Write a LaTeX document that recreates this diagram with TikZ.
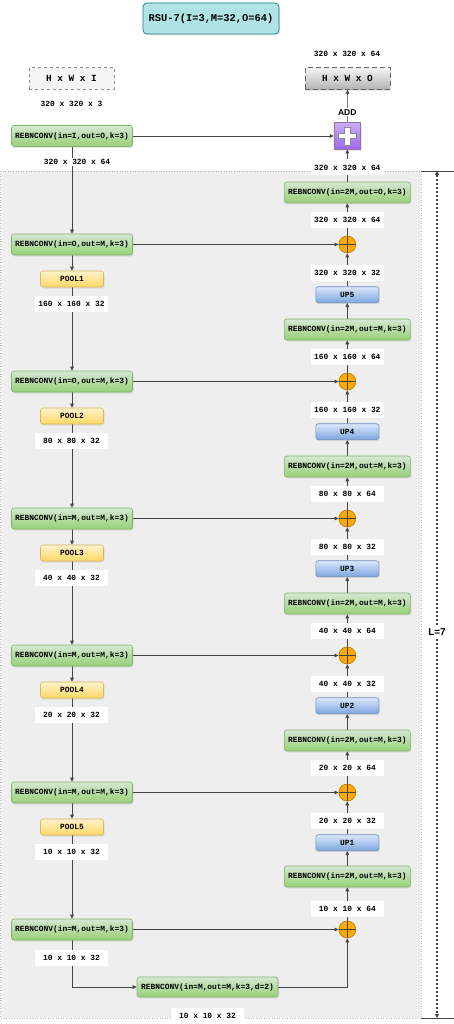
\documentclass[tikz,border=0pt]{standalone}
\usepackage{fontspec}
\setmainfont{Liberation Sans}
\setsansfont{Liberation Sans}
\setmonofont{Liberation Mono}
\usetikzlibrary{arrows.meta,shadows}
\definecolor{gFill}{HTML}{D5E8D4}
\definecolor{gGrad}{HTML}{97D077}
\definecolor{gLine}{HTML}{82B366}
\definecolor{yFill}{HTML}{FFF2CC}
\definecolor{yGrad}{HTML}{FFD966}
\definecolor{yLine}{HTML}{D6B656}
\definecolor{bFill}{HTML}{DAE8FC}
\definecolor{bGrad}{HTML}{7EA6E0}
\definecolor{bLine}{HTML}{6C8EBF}
\definecolor{tFill}{HTML}{B0E3E6}
\definecolor{tLine}{HTML}{0E8088}
\definecolor{pTop}{HTML}{C9AEF5}
\definecolor{pBot}{HTML}{9F66F0}
\definecolor{pLine}{HTML}{9673A6}
\definecolor{oFill}{HTML}{FFAA00}
\definecolor{oLine}{HTML}{B07A00}
\definecolor{lineC}{HTML}{444444}
\definecolor{regFill}{HTML}{EEEEEE}
\definecolor{regLine}{HTML}{BBBBBB}
\pgfdeclarelayer{bg}
\pgfdeclarelayer{edges}
\pgfsetlayers{bg,edges,main}
\begin{document}
\begin{tikzpicture}[x=1pt,y=-1pt,
  mono/.style={font=\ttfamily\bfseries\fontsize{7.9}{9}\selectfont},
  shad/.style={drop shadow={opacity=0.18,shadow xshift=1pt,shadow yshift=-1.5pt}},
  box/.style={mono,rounded corners=2.5pt,inner sep=0pt,shad,line width=0.6pt},
  gbox/.style={box,draw=gLine,top color=gFill,bottom color=gGrad,minimum width=121pt,minimum height=21pt},
  gboxr/.style={gbox,minimum width=126pt},
  pbox/.style={box,draw=yLine,top color=yFill,bottom color=yGrad,minimum width=63pt,minimum height=16pt},
  ubox/.style={box,draw=bLine,top color=bFill,bottom color=bGrad,minimum width=63pt,minimum height=16pt},
  lbl/.style={mono,fill=white,minimum width=73.5pt,minimum height=16pt,inner sep=0pt},
  plaintxt/.style={mono,inner sep=0pt},
  orc/.style={circle,draw=oLine,fill=oFill,minimum size=17pt,inner sep=0pt,line width=0.6pt,
    path picture={\draw[black!75,line width=0.6pt] (path picture bounding box.north) -- (path picture bounding box.south) (path picture bounding box.west) -- (path picture bounding box.east);}},
  arr/.style={draw=lineC,line width=0.6pt,-{Triangle[length=4pt,width=3.6pt]}},
  dimarr/.style={draw=lineC,line width=1.2pt,dash pattern=on 2pt off 2pt,{Triangle[length=4pt,width=4pt]}-{Triangle[length=4pt,width=4pt]}},
]
\useasboundingbox (0,0) rectangle (454,1024);

\begin{pgfonlayer}{bg}
\fill[white] (0,0) rectangle (454,1024);
\draw[regLine,fill=regFill,dotted,line width=0.6pt] (0.5,171) rectangle (421,1018);
\end{pgfonlayer}

% title
\node[mono,font=\ttfamily\bfseries\fontsize{10.4}{12}\selectfont,draw=tLine,fill=tFill,rounded corners=4pt,minimum width=136pt,minimum height=31pt,inner sep=0pt,shad,line width=0.7pt] (title) at (211,18.5) {RSU-7(I=3,M=32,O=64)};

% input / output
\node[mono,font=\ttfamily\bfseries\fontsize{9.4}{11}\selectfont,draw=black!45,dashed,fill=black!4,minimum width=85pt,minimum height=21.5pt,inner sep=0pt,line width=0.7pt] (inp) at (71.5,78.5) {H x W x I};
\node[mono,font=\ttfamily\bfseries\fontsize{9.4}{11}\selectfont,draw=black!60,dash pattern=on 5pt off 3pt,top color=black!4,bottom color=black!30,minimum width=85pt,minimum height=21.5pt,inner sep=0pt,line width=1pt,shad] (out) at (347.5,78.5) {H x W x O};
\node[plaintxt] (tout) at (347,54) {320 x 320 x 64};
\node[plaintxt] (tin) at (71.5,104.3) {320 x 320 x 3};

% add
\node[draw=pLine,top color=pTop,bottom color=pBot,minimum width=26.5pt,minimum height=26.5pt,inner sep=0pt,line width=0.5pt,shad,
  path picture={\filldraw[fill=white,draw=black!45,line width=0.5pt] ([shift={(-2.6,-9)}]path picture bounding box.center) -- ++(5.2,0) -- ++(0,6.4) -- ++(6.4,0) -- ++(0,5.2) -- ++(-6.4,0) -- ++(0,6.4) -- ++(-5.2,0) -- ++(0,-6.4) -- ++(-6.4,0) -- ++(0,-5.2) -- ++(6.4,0) -- cycle;}] (plus) at (347.3,136) {};
\node[fill=white,inner sep=1pt,font=\sffamily\bfseries\fontsize{8.5}{10}\selectfont] (add) at (347.3,112.3) {ADD};

% encoder
\node[gbox] (rin) at (72,136) {REBNCONV(in=I,out=O,k=3)};
\node[plaintxt,fill=white,inner sep=1pt] (l0) at (77,162) {320 x 320 x 64};

\node[gbox] (e1) at (72,244.5) {REBNCONV(in=O,out=M,k=3)};
\node[pbox] (p1) at (72,279) {POOL1};
\node[lbl] (le1) at (71.5,304) {160 x 160 x 32};

\node[gbox] (e2) at (72,381.5) {REBNCONV(in=O,out=M,k=3)};
\node[pbox] (p2) at (72,416) {POOL2};
\node[lbl] (le2) at (71.5,441) {80 x 80 x 32};

\node[gbox] (e3) at (72,518.5) {REBNCONV(in=M,out=M,k=3)};
\node[pbox] (p3) at (72,553) {POOL3};
\node[lbl] (le3) at (71.5,578) {40 x 40 x 32};

\node[gbox] (e4) at (72,655.5) {REBNCONV(in=M,out=M,k=3)};
\node[pbox] (p4) at (72,690) {POOL4};
\node[lbl] (le4) at (71.5,715) {20 x 20 x 32};

\node[gbox] (e5) at (72,792.5) {REBNCONV(in=M,out=M,k=3)};
\node[pbox] (p5) at (72,827) {POOL5};
\node[lbl] (le5) at (71.5,852) {10 x 10 x 32};

\node[gbox] (e6) at (72,929.5) {REBNCONV(in=M,out=M,k=3)};
\node[lbl] (le6) at (71.5,957.5) {10 x 10 x 32};

\node[gbox,minimum width=141pt,minimum height=20pt] (bot) at (207.5,987) {REBNCONV(in=M,out=M,k=3,d=2)};
\node[lbl] (lbot) at (207.5,1016) {10 x 10 x 32};

% decoder
\node[lbl] (lr0) at (347.3,167.5) {320 x 320 x 64};
\node[gboxr] (d0) at (347.3,192.5) {REBNCONV(in=2M,out=O,k=3)};
\node[lbl] (lr1) at (347.3,220) {320 x 320 x 64};
\node[orc] (c1) at (347.3,244.5) {};

\node[lbl] (lu5) at (347.3,272.7) {320 x 320 x 32};
\node[ubox] (u5) at (347.3,294.7) {UP5};
\node[gboxr] (d1) at (347.3,329.5) {REBNCONV(in=2M,out=M,k=3)};
\node[lbl] (ld1) at (347.3,357.3) {160 x 160 x 64};
\node[orc] (c2) at (347.3,381.5) {};

\node[lbl] (lu4) at (347.3,409.7) {160 x 160 x 32};
\node[ubox] (u4) at (347.3,431.7) {UP4};
\node[gboxr] (d2) at (347.3,466.5) {REBNCONV(in=2M,out=M,k=3)};
\node[lbl] (ld2) at (347.3,494.3) {80 x 80 x 64};
\node[orc] (c3) at (347.3,518.5) {};

\node[lbl] (lu3) at (347.3,546.7) {80 x 80 x 32};
\node[ubox] (u3) at (347.3,568.7) {UP3};
\node[gboxr] (d3) at (347.3,603.5) {REBNCONV(in=2M,out=M,k=3)};
\node[lbl] (ld3) at (347.3,631.3) {40 x 40 x 64};
\node[orc] (c4) at (347.3,655.5) {};

\node[lbl] (lu2) at (347.3,683.7) {40 x 40 x 32};
\node[ubox] (u2) at (347.3,705.7) {UP2};
\node[gboxr] (d4) at (347.3,740.5) {REBNCONV(in=2M,out=M,k=3)};
\node[lbl] (ld4) at (347.3,768.3) {20 x 20 x 64};
\node[orc] (c5) at (347.3,792.5) {};

\node[lbl] (lu1) at (347.3,820.7) {20 x 20 x 32};
\node[ubox] (u1) at (347.3,842.7) {UP1};
\node[gboxr] (d5) at (347.3,876.5) {REBNCONV(in=2M,out=M,k=3)};
\node[lbl] (ld5) at (347.3,909) {10 x 10 x 64};
\node[orc] (c6) at (347.3,929.5) {};

% dimension
\coordinate (dimT) at (437,171);
\coordinate (dimB) at (437,1018);
\coordinate (tickTa) at (421,171);
\coordinate (tickTb) at (454,171);
\coordinate (tickBa) at (421,1018);
\coordinate (tickBb) at (454,1018);
\draw[lineC,line width=0.8pt] (tickTa) -- (tickTb);
\draw[lineC,line width=0.8pt] (tickBa) -- (tickBb);

\begin{pgfonlayer}{edges}
\draw[arr] (rin) -- (plus);
\draw[arr] (plus) -- (out);
\draw[arr] (d0) -- (plus);
\draw[arr] (rin) -- (e1);
\draw[arr] (e1) -- (p1);
\draw[arr] (p1) -- (e2);
\draw[arr] (e2) -- (p2);
\draw[arr] (p2) -- (e3);
\draw[arr] (e3) -- (p3);
\draw[arr] (p3) -- (e4);
\draw[arr] (e4) -- (p4);
\draw[arr] (p4) -- (e5);
\draw[arr] (e5) -- (p5);
\draw[arr] (p5) -- (e6);
\draw[arr] (e1) -- (c1);
\draw[arr] (e2) -- (c2);
\draw[arr] (e3) -- (c3);
\draw[arr] (e4) -- (c4);
\draw[arr] (e5) -- (c5);
\draw[arr] (e6) -- (c6);
\draw[arr] (c1) -- (d0);
\draw[arr] (c2) -- (d1);
\draw[arr] (d1) -- (u5);
\draw[arr] (u5) -- (c1);
\draw[arr] (c3) -- (d2);
\draw[arr] (d2) -- (u4);
\draw[arr] (u4) -- (c2);
\draw[arr] (c4) -- (d3);
\draw[arr] (d3) -- (u3);
\draw[arr] (u3) -- (c3);
\draw[arr] (c5) -- (d4);
\draw[arr] (d4) -- (u2);
\draw[arr] (u2) -- (c4);
\draw[arr] (c6) -- (d5);
\draw[arr] (d5) -- (u1);
\draw[arr] (u1) -- (c5);
\draw[arr] (e6) |- (bot);
\draw[arr] (bot) -| (c6);
\draw[dimarr] (dimT) -- (dimB);
\end{pgfonlayer}
\node[fill=white,inner sep=1.5pt,font=\sffamily\bfseries\fontsize{10}{12}\selectfont] (lL) at (437,632) {L=7};
\end{tikzpicture}
\end{document}
